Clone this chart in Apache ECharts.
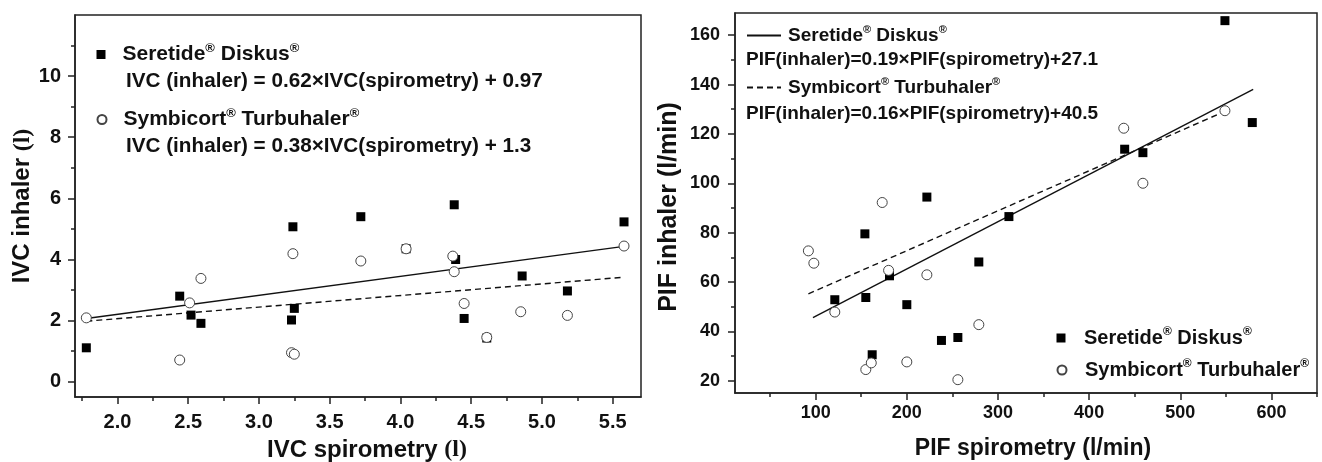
<!DOCTYPE html>
<html>
<head>
<meta charset="utf-8">
<script src="https://cdn.jsdelivr.net/npm/echarts@6/dist/echarts.min.js"></script>
<style>
  html, body { margin: 0; padding: 0; background: #fff; }
  #chart { width: 1322px; height: 462px; }
</style>
</head>
<body>
<div id="chart"></div>
<script>
// ---------- DATA ----------
var SERETIDE = 'Seretide® Diskus®';
var SYMBICORT = 'Symbicort® Turbuhaler®';

// Left panel: IVC (l)
var ivcSeretideX = [1.78, 2.44, 2.52, 2.59, 3.24, 3.25, 3.23, 3.72, 4.04, 4.38, 4.39, 4.45, 4.61, 4.86, 5.18, 5.58];
var ivcSeretideY = [1.11, 2.80, 2.18, 1.91, 5.07, 2.40, 2.02, 5.40, 4.35, 5.79, 4.00, 2.07, 1.43, 3.46, 2.97, 5.23];
var ivcSymbicortX = [1.78, 2.44, 2.51, 2.59, 3.24, 3.23, 3.25, 3.72, 4.04, 4.37, 4.38, 4.45, 4.61, 4.85, 5.18, 5.58];
var ivcSymbicortY = [2.09, 0.71, 2.58, 3.38, 4.19, 0.95, 0.90, 3.95, 4.35, 4.11, 3.60, 2.56, 1.45, 2.29, 2.17, 4.44];
var ivcFitX = [1.78, 5.58];
var ivcSeretideFitY = [2.07, 4.43];
var ivcSymbicortFitY = [1.98, 3.42];
var ivcXTicks = [2.0, 2.5, 3.0, 3.5, 4.0, 4.5, 5.0, 5.5];
var ivcXMinor = [1.75, 2.25, 2.75, 3.25, 3.75, 4.25, 4.75, 5.25];
var ivcYTicks = [0, 2, 4, 6, 8, 10];
var ivcYMinor = [1, 3, 5, 7, 9, 11];
var ivcEq1 = 'IVC (inhaler) = 0.62×IVC(spirometry) + 0.97';
var ivcEq2 = 'IVC (inhaler) = 0.38×IVC(spirometry) + 1.3';

// Right panel: PIF (l/min)
var pifSeretideX = [121, 154, 155, 162, 181, 200, 222, 238, 256, 279, 312, 439, 459, 549, 579];
var pifSeretideY = [52.8, 79.5, 53.7, 30.5, 62.5, 50.8, 94.4, 36.3, 37.5, 68.1, 86.5, 113.8, 112.4, 165.9, 124.6];
var pifSymbicortX = [92, 98, 121, 155, 161, 173, 180, 200, 222, 256, 279, 438, 459, 549];
var pifSymbicortY = [72.6, 67.6, 47.8, 24.5, 27.2, 92.2, 64.7, 27.6, 62.9, 20.4, 42.7, 122.3, 100.0, 129.4];
var pifSeretideFitX = [97, 580];
var pifSeretideFitY = [45.5, 138];
var pifSymbicortFitX = [92, 548];
var pifSymbicortFitY = [55.2, 129];
var pifXTicks = [100, 200, 300, 400, 500, 600];
var pifXMinor = [50, 150, 250, 350, 450, 550, 650];
var pifYTicks = [20, 40, 60, 80, 100, 120, 140, 160];
var pifYMinor = [30, 50, 70, 90, 110, 130, 150];
var pifEq1 = 'PIF(inhaler)=0.19×PIF(spirometry)+27.1';
var pifEq2 = 'PIF(inhaler)=0.16×PIF(spirometry)+40.5';

// ---------- BUILD ----------
function zip(xs, ys) { return xs.map(function (x, i) { return [x, ys[i]]; }); }
var FONT = '"Liberation Sans", Arial, sans-serif';
var SERIF = '"Liberation Serif", "Times New Roman", serif';
var AX = '#222';

function supFmt(name) {
  return name.replace(' fit', '').replace(/®/g, '{s|®}');
}

function labelAx(grid, pos, min, max, ticks, fmt, fs, margin) {
  return {
    type: 'value', gridIndex: grid, position: pos, min: min, max: max,
    axisLine: { show: true, onZero: false, lineStyle: { color: AX, width: 1.5 } },
    axisTick: { show: false },
    axisLabel: { show: true, customValues: ticks, formatter: fmt, margin: margin,
      fontFamily: FONT, fontWeight: 'bold', fontSize: fs, color: '#111' },
    splitLine: { show: false }
  };
}
function tickAx(grid, pos, min, max, ticks, len) {
  return {
    type: 'value', gridIndex: grid, position: pos, offset: 0, min: min, max: max,
    axisLine: { show: false, onZero: false },
    axisTick: { show: true, inside: false, customValues: ticks, length: len, lineStyle: { color: AX, width: 1.5 } },
    axisLabel: { show: false },
    splitLine: { show: false }
  };
}

var xAxes = [], yAxes = [];
// left panel x
var lx = labelAx(0, 'bottom', 1.7, 5.7, ivcXTicks, function (v) { return v.toFixed(1); }, 20, 15);
lx.name = 'IVC spirometry {t|(l)}';
lx.nameLocation = 'middle'; lx.nameGap = 41;
lx.nameTextStyle = { fontFamily: FONT, fontWeight: 'bold', fontSize: 24, color: '#111', padding: [0, 0, 0, 18],
  rich: { t: { fontFamily: SERIF, fontWeight: 'bold', fontSize: 24, color: '#111' } } };
xAxes.push(lx);
xAxes.push(tickAx(0, 'bottom', 1.7, 5.7, ivcXTicks, 7));
xAxes.push(tickAx(0, 'bottom', 1.7, 5.7, ivcXMinor, 4));
// left panel y
var ly = labelAx(0, 'left', -0.5, 12, ivcYTicks, function (v) { return String(v); }, 20, 14);
ly.name = 'IVC inhaler {t|(l)}';
ly.nameLocation = 'middle'; ly.nameGap = 33; ly.nameRotate = 90;
ly.nameTextStyle = { fontFamily: FONT, fontWeight: 'bold', fontSize: 24, color: '#111',
  rich: { t: { fontFamily: SERIF, fontWeight: 'bold', fontSize: 24, color: '#111' } } };
yAxes.push(ly);
yAxes.push(tickAx(0, 'left', -0.5, 12, ivcYTicks, 7));
yAxes.push(tickAx(0, 'left', -0.5, 12, ivcYMinor, 4));
// right panel x
var rx = labelAx(1, 'bottom', 11.5, 650, pifXTicks, function (v) { return String(v); }, 18, 11);
rx.name = 'PIF spirometry (l/min)';
rx.nameLocation = 'middle'; rx.nameGap = 44;
rx.nameTextStyle = { fontFamily: FONT, fontWeight: 'bold', fontSize: 23, color: '#111', padding: [0, 0, 0, 14] };
xAxes.push(rx);
xAxes.push(tickAx(1, 'bottom', 11.5, 650, pifXTicks, 7));
xAxes.push(tickAx(1, 'bottom', 11.5, 650, pifXMinor, 4));
// right panel y
var ry = labelAx(1, 'left', 15, 169, pifYTicks, function (v) { return String(v); }, 18, 15);
ry.name = 'PIF inhaler (l/min)';
ry.nameLocation = 'middle'; ry.nameGap = 53; ry.nameRotate = 90;
ry.nameTextStyle = { fontFamily: FONT, fontWeight: 'bold', fontSize: 25, color: '#111', padding: [0, 8, 0, 0] };
yAxes.push(ry);
yAxes.push(tickAx(1, 'left', 15, 169, pifYTicks, 7));
yAxes.push(tickAx(1, 'left', 15, 169, pifYMinor, 4));

function sq(name, data, xi, yi) {
  return { type: 'scatter', name: name, xAxisIndex: xi, yAxisIndex: yi, data: data,
    symbol: 'rect', symbolSize: 9, itemStyle: { color: '#000', opacity: 1 }, z: 3 };
}
function circ(name, data, xi, yi) {
  return { type: 'scatter', name: name, xAxisIndex: xi, yAxisIndex: yi, data: data,
    symbol: 'circle', symbolSize: 10, itemStyle: { color: '#fff', borderColor: '#444', borderWidth: 1, opacity: 1 }, z: 4 };
}
function fit(name, data, xi, yi, dashed) {
  return { type: 'line', name: name, xAxisIndex: xi, yAxisIndex: yi, data: data,
    symbol: 'none', showSymbol: false, silent: true, color: '#111',
    lineStyle: { color: '#111', width: 1.4, type: dashed ? [6, 4] : 'solid' }, z: 2 };
}

var series = [
  fit(SERETIDE + ' fit', zip(ivcFitX, ivcSeretideFitY), 0, 0, false),
  fit(SYMBICORT + ' fit', zip(ivcFitX, ivcSymbicortFitY), 0, 0, true),
  sq(SERETIDE, zip(ivcSeretideX, ivcSeretideY), 0, 0),
  circ(SYMBICORT, zip(ivcSymbicortX, ivcSymbicortY), 0, 0),
  fit(SERETIDE + ' fit', zip(pifSeretideFitX, pifSeretideFitY), 3, 3, false),
  fit(SYMBICORT + ' fit', zip(pifSymbicortFitX, pifSymbicortFitY), 3, 3, true),
  sq(SERETIDE, zip(pifSeretideX, pifSeretideY), 3, 3),
  circ(SYMBICORT, zip(pifSymbicortX, pifSymbicortY), 3, 3)
];

function legendAt(name, left, top, fs, spacer, iw, ih, hideSymbol) {
  var l = {
    data: [name], left: left, top: top, orient: 'vertical', padding: 0,
    selectedMode: false, itemWidth: iw, itemHeight: ih, itemGap: 0,
    formatter: function (n) { return '{g|}' + supFmt(n); },
    textStyle: { fontFamily: FONT, fontWeight: 'bold', fontSize: fs, color: '#111', lineHeight: Math.round(fs + 4),
      rich: { g: { width: spacer }, s: { fontSize: Math.round(fs * 0.6), verticalAlign: 'top', lineHeight: Math.round(fs * 0.6), color: '#111' } } }
  };
  if (hideSymbol) { l.itemStyle = { opacity: 0 }; }
  return l;
}

var legends = [
  legendAt(SERETIDE, 96.5, 42, 21, 12, 9, 9),
  legendAt(SYMBICORT, 96.5, 107, 21, 12, 9, 9),
  legendAt(SERETIDE + ' fit', 746, 24, 19, 2, 34, 9, true),
  legendAt(SYMBICORT + ' fit', 746, 76, 19, 2, 34, 9, true),
  legendAt(SERETIDE, 1056.5, 326, 20, 13.5, 9, 9),
  legendAt(SYMBICORT, 1056.5, 358, 20, 13.5, 9, 9)
];

function eqText(txt, x, y, fs) {
  return { type: 'text', x: x, y: y, silent: true,
    style: { text: txt, fill: '#111', font: 'bold ' + fs + 'px ' + FONT, verticalAlign: 'middle', align: 'left' } };
}

var option = {
  animation: false,
  backgroundColor: '#fff',
  grid: [
    { left: 75, top: 15, right: 681, bottom: 65, show: true, borderColor: AX, borderWidth: 1.5,
      containLabel: false, outerBoundsMode: 'none' },
    { left: 735, top: 13, right: 5, bottom: 69, show: true, borderColor: AX, borderWidth: 1.5,
      containLabel: false, outerBoundsMode: 'none' }
  ],
  xAxis: xAxes,
  yAxis: yAxes,
  legend: legends,
  series: series,
  graphic: [
    eqText(ivcEq1, 126, 81, 20.7),
    eqText(ivcEq2, 126, 146, 20.7),
    eqText(pifEq1, 746, 60, 19),
    eqText(pifEq2, 746, 114, 19)
  ]
};

var chart = echarts.init(document.getElementById('chart'), null, { renderer: 'canvas' });
chart.setOption(option);
</script>
</body>
</html>
